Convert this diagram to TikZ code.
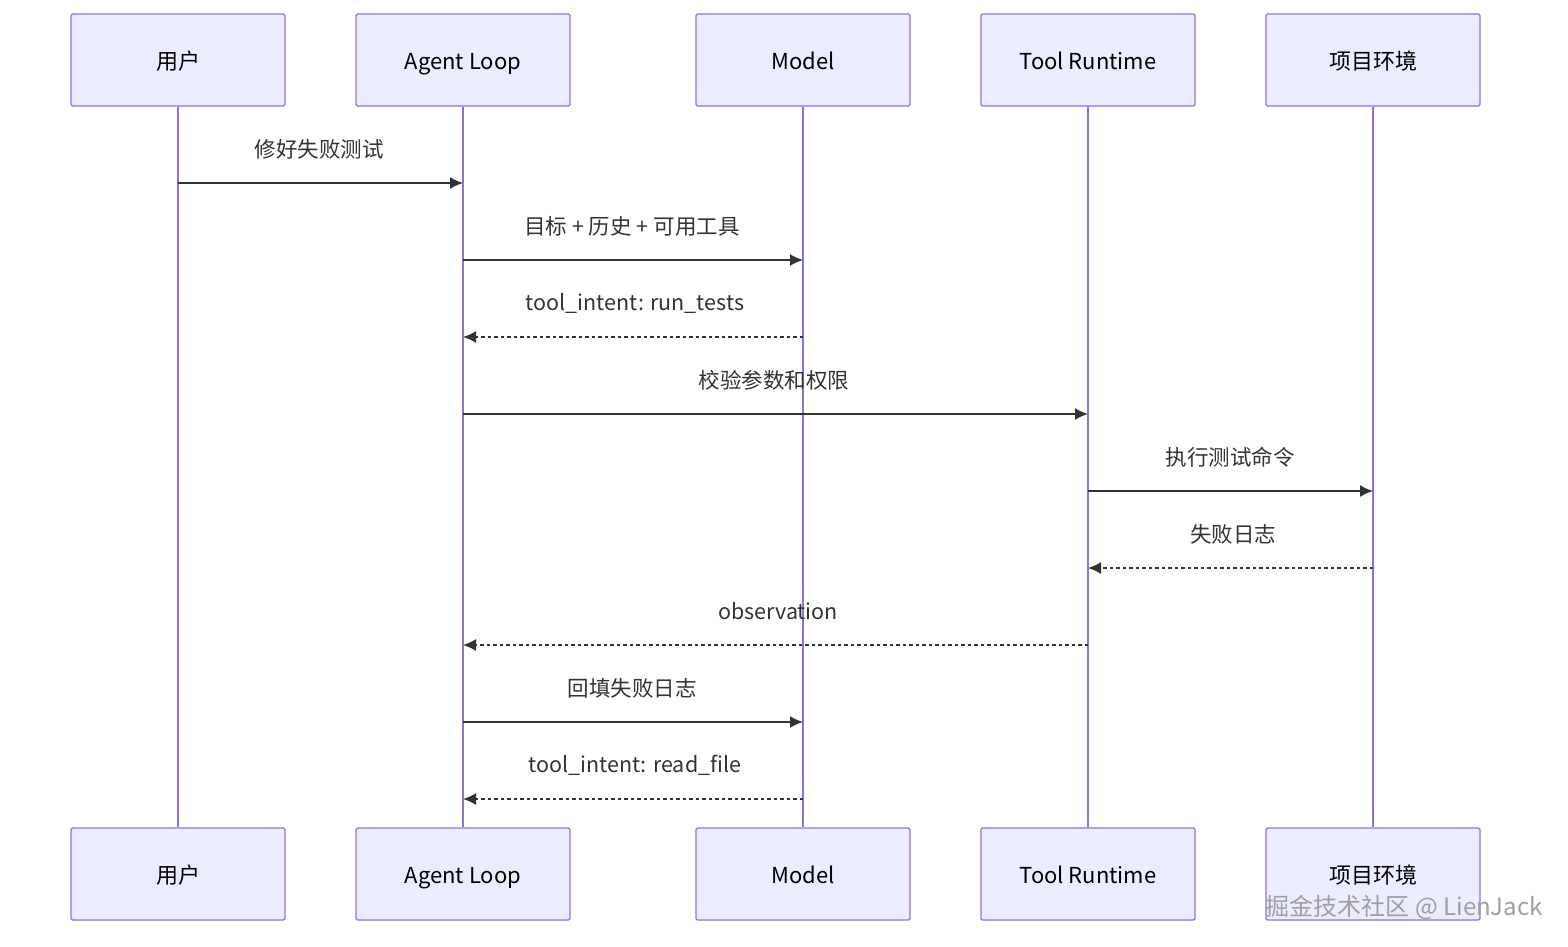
\documentclass[tikz,border=0pt]{standalone}
\usepackage{fontspec}
\setmainfont{Noto Sans CJK SC}
\usetikzlibrary{arrows.meta}
\definecolor{boxfill}{HTML}{ECECFF}
\definecolor{boxline}{HTML}{9370DB}
\definecolor{msg}{HTML}{333333}
\begin{document}
\begin{tikzpicture}[x=1pt,y=-1pt,
  actor/.style={draw=boxline,fill=boxfill,line width=1.2pt,minimum width=214pt,minimum height=92pt,inner sep=0pt,font=\fontsize{22}{26}\selectfont,text height=21pt,text depth=3pt,rounded corners=1.5pt},
  life/.style={draw=boxline,line width=2.2pt},
  sync/.style={draw=msg,line width=1.5pt,-{Latex[length=13pt,width=12pt]}},
  rep/.style={sync,dash pattern=on 3.5pt off 3pt},
  lbl/.style={font=\fontsize{21.5}{25}\selectfont,text=msg,inner sep=0pt}]
\useasboundingbox[fill=white] (0,0) rectangle (1568,946);
\foreach \n/\x/\t in {u/178/用户,a/463/Agent Loop,m/803/Model,t/1088/Tool Runtime,p/1373/项目环境}{
  \node[actor] (\n top) at (\x,60) {\t};
  \node[actor] (\n bot) at (\x,874) {\t};
  \draw[life] (\n top.south) -- (\n bot.north);
}
\foreach \i/\f/\g/\y/\s/\t/\lx in {
 1/u/a/183/sync/修好失败测试/319,
 2/a/m/260/sync/目标 + 历史 + 可用工具/632,
 3/m/a/337/rep/tool\_intent: run\_tests/635,
 4/a/t/414/sync/校验参数和权限/774,
 5/t/p/491/sync/执行测试命令/1230,
 6/p/t/568/rep/失败日志/1233,
 7/t/a/645/rep/observation/778,
 8/a/m/722/sync/回填失败日志/632,
 9/m/a/799/rep/tool\_intent: read\_file/635}{
  \coordinate (s\i) at (\f top.south |- 0,\y);
  \coordinate (e\i) at (\g top.south |- 0,\y);
  \draw[\s] (s\i) -- (e\i);
  \node[lbl] (l\i) at (\lx,\y-34) {\t};
}
\node[font=\fontsize{24}{28}\selectfont,text=gray!75,anchor=east,inner sep=0pt] (wm) at (1543,907) {掘金技术社区 @ LienJack};
\end{tikzpicture}
\end{document}
